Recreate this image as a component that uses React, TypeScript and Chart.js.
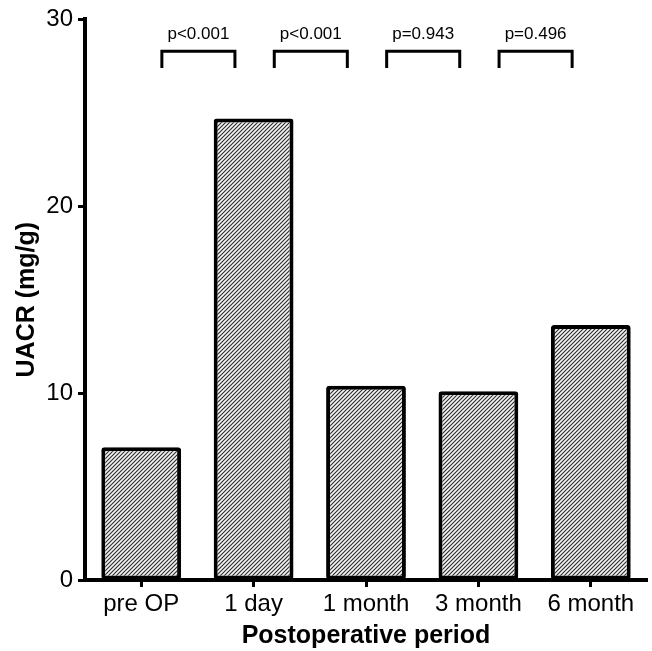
import React, { useEffect, useRef } from "react";
import { Chart, registerables } from "chart.js";

Chart.register(...registerables);

const categories = ["pre OP", "1 day", "1 month", "3 month", "6 month"];
const uacrValues = [7.1, 24.7, 10.4, 10.1, 13.65];
const yTicks = [0, 10, 20, 30];
const comparisonLabels = ["p<0.001", "p<0.001", "p=0.943", "p=0.496"];
const bracketTop = 28.3;
const bracketLegEnd = 27.4;
const labelLevel = 29.2;

const FONT = "'Liberation Sans', Arial, Helvetica, sans-serif";

function makeHatch(): CanvasPattern | string {
  const c = document.createElement("canvas");
  const s = 4;
  c.width = s;
  c.height = s;
  const g = c.getContext("2d");
  if (!g) return "#888";
  g.fillStyle = "#f4f4f4";
  g.fillRect(0, 0, s, s);
  g.strokeStyle = "#2a2a2a";
  g.lineWidth = 1.1;
  g.beginPath();
  g.moveTo(-1, s + 1);
  g.lineTo(s + 1, -1);
  g.moveTo(-1, 1);
  g.lineTo(1, -1);
  g.moveTo(s - 1, s + 1);
  g.lineTo(s + 1, s - 1);
  g.stroke();
  const p = g.createPattern(c, "repeat");
  return p || "#888";
}

const bracketPlugin = {
  id: "brackets",
  afterDatasetsDraw(chart: any) {
    const { ctx, scales } = chart;
    const x = scales.x;
    const y = scales.y;
    const step = x.getPixelForValue(1) - x.getPixelForValue(0);
    ctx.save();
    ctx.strokeStyle = "#000";
    ctx.lineWidth = 3;
    ctx.lineJoin = "miter";
    ctx.fillStyle = "#000";
    ctx.font = `17px ${FONT}`;
    ctx.textAlign = "center";
    ctx.textBaseline = "middle";
    comparisonLabels.forEach((lab, i) => {
      const mid = (x.getPixelForValue(i) + x.getPixelForValue(i + 1)) / 2 + 1;
      const l = mid - step * 0.325;
      const r = mid + step * 0.325;
      const yt = y.getPixelForValue(bracketTop);
      const yb = y.getPixelForValue(bracketLegEnd);
      ctx.beginPath();
      ctx.moveTo(l, yb);
      ctx.lineTo(l, yt);
      ctx.lineTo(r, yt);
      ctx.lineTo(r, yb);
      ctx.stroke();
      ctx.fillText(lab, mid, y.getPixelForValue(labelLevel));
    });
    ctx.restore();
  },
};

export default function App() {
  const ref = useRef<HTMLCanvasElement>(null);
  useEffect(() => {
    if (!ref.current) return;
    const hatch = makeHatch();
    const chart = new Chart(ref.current, {
      type: "bar",
      data: {
        labels: categories,
        datasets: [
          {
            data: uacrValues,
            backgroundColor: hatch as any,
            borderColor: "#000",
            borderWidth: 4,
            borderSkipped: false,
            borderRadius: 3,
            barPercentage: 0.71,
            categoryPercentage: 1,
          },
        ],
      },
      options: {
        responsive: false,
        animation: false,
        devicePixelRatio: 1,
        layout: { padding: { top: 16, right: 5, left: 0, bottom: 0 } },
        plugins: {
          legend: { display: false },
          tooltip: { enabled: false },
        },
        scales: {
          x: {
            offset: true,
            grid: {
              display: true,
              offset: false,
              drawOnChartArea: false,
              drawTicks: true,
              tickLength: 7,
              tickWidth: 3,
              tickColor: "#000",
              color: "#000",
            },
            border: { display: true, color: "#000", width: 4 },
            ticks: {
              color: "#000",
              font: { family: FONT, size: 24 },
              padding: 3,
              maxRotation: 0,
            },
            title: {
              display: true,
              text: "Postoperative period",
              color: "#000",
              font: { family: FONT, size: 25, weight: "bold" },
              padding: { top: 0, bottom: 0 },
            },
            afterFit(scale: any) {
              scale.height = 71;
            },
          },
          y: {
            min: 0,
            max: 30,
            afterBuildTicks(scale: any) {
              scale.ticks = yTicks.map((v) => ({ value: v }));
            },
            grid: {
              display: true,
              drawOnChartArea: false,
              drawTicks: true,
              tickLength: 7,
              tickWidth: 3,
              tickColor: "#000",
              color: "#000",
            },
            border: { display: true, color: "#000", width: 4 },
            ticks: {
              color: "#000",
              font: { family: FONT, size: 24 },
              padding: 5,
            },
            title: {
              display: true,
              text: "UACR (mg/g)",
              color: "#000",
              font: { family: FONT, size: 25, weight: "bold" },
              padding: { top: 12, bottom: 0 },
            },
            afterFit(scale: any) {
              scale.width = 85;
            },
          },
        },
      },
      plugins: [bracketPlugin],
    });
    return () => chart.destroy();
  }, []);
  return (
    <div style={{ position: "absolute", left: 0, top: 0, width: 652, height: 651, background: "#fff" }}>
      <canvas ref={ref} width={652} height={651} style={{ width: 652, height: 651, display: "block" }} />
    </div>
  );
}
